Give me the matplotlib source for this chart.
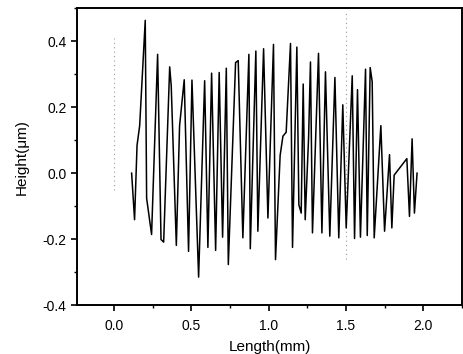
import matplotlib
matplotlib.use("Agg")
import matplotlib.pyplot as plt
from matplotlib.ticker import MultipleLocator

plt.rcParams['font.family'] = ['Liberation Sans', 'DejaVu Sans']

# profile trace (mm, um)
length = [0.114, 0.133, 0.149, 0.166, 0.202, 0.211, 0.243, 0.282, 0.304, 0.321,
          0.360, 0.370, 0.403, 0.424, 0.454, 0.482, 0.504, 0.547, 0.586, 0.607,
          0.631, 0.657, 0.680, 0.702, 0.726, 0.739, 0.786, 0.803, 0.833, 0.872,
          0.881, 0.917, 0.930, 0.967, 0.995, 1.031, 1.044, 1.074, 1.092, 1.113,
          1.141, 1.154, 1.182, 1.195, 1.210, 1.223, 1.236, 1.258, 1.270, 1.283,
          1.322, 1.344, 1.367, 1.395, 1.428, 1.453, 1.479, 1.501, 1.540, 1.555,
          1.574, 1.593, 1.626, 1.637, 1.656, 1.669, 1.682, 1.725, 1.749, 1.781,
          1.796, 1.811, 1.893, 1.910, 1.927, 1.942, 1.959]
height = [0.000, -0.141, 0.084, 0.144, 0.463, -0.076, -0.186, 0.360, -0.201, -0.209,
          0.322, 0.265, -0.219, 0.144, 0.283, -0.237, 0.282, -0.315, 0.280, -0.225,
          0.303, -0.234, 0.305, -0.194, 0.318, -0.277, 0.335, 0.341, -0.196, 0.360,
          -0.229, 0.370, -0.176, 0.377, -0.136, 0.390, -0.262, 0.054, 0.112, 0.124,
          0.393, -0.225, 0.382, -0.096, -0.121, 0.270, -0.141, 0.109, 0.337, -0.181,
          0.363, -0.181, 0.307, -0.191, 0.290, -0.196, 0.207, -0.166, 0.295, -0.198,
          0.253, -0.194, 0.315, -0.189, 0.320, 0.277, -0.196, 0.144, -0.176, 0.056,
          -0.166, -0.006, 0.044, -0.131, 0.104, -0.121, 0.000]

# faint dotted scan marks
mark_x = [0.0, 1.5]
mark_top = [0.41, 0.49]
mark_bottom = [-0.05, -0.26]

fig = plt.figure(figsize=(4.63, 3.54), dpi=100)
ax = fig.add_axes([0.166, 0.138, 0.832, 0.839])

ax.vlines(mark_x, mark_bottom, mark_top, colors='#999999', linestyles=(0, (1, 3)), linewidth=0.8)
ax.plot(length, height, color='black', linewidth=1.1)

ax.set_xlim(-0.24, 2.25)
ax.set_ylim(-0.4, 0.5)
ax.xaxis.set_major_locator(MultipleLocator(0.5))
ax.xaxis.set_minor_locator(MultipleLocator(0.25))
ax.yaxis.set_major_locator(MultipleLocator(0.2))
ax.yaxis.set_minor_locator(MultipleLocator(0.1))
ax.xaxis.set_major_formatter(plt.FormatStrFormatter('%.1f'))
ax.yaxis.set_major_formatter(plt.FormatStrFormatter('%.1f'))

ax.tick_params(which='major', direction='out', length=4, width=1.2, labelsize=10)
ax.tick_params(axis='x', which='major', pad=6)
ax.tick_params(which='minor', direction='out', length=2.5, width=1)
for s in ax.spines.values():
    s.set_linewidth(1.4)

ax.set_xlabel('Length(mm)', fontsize=11, labelpad=5)
ax.set_ylabel('Height(μm)', fontsize=11, labelpad=10)

fig.savefig('out.png', dpi=100)
